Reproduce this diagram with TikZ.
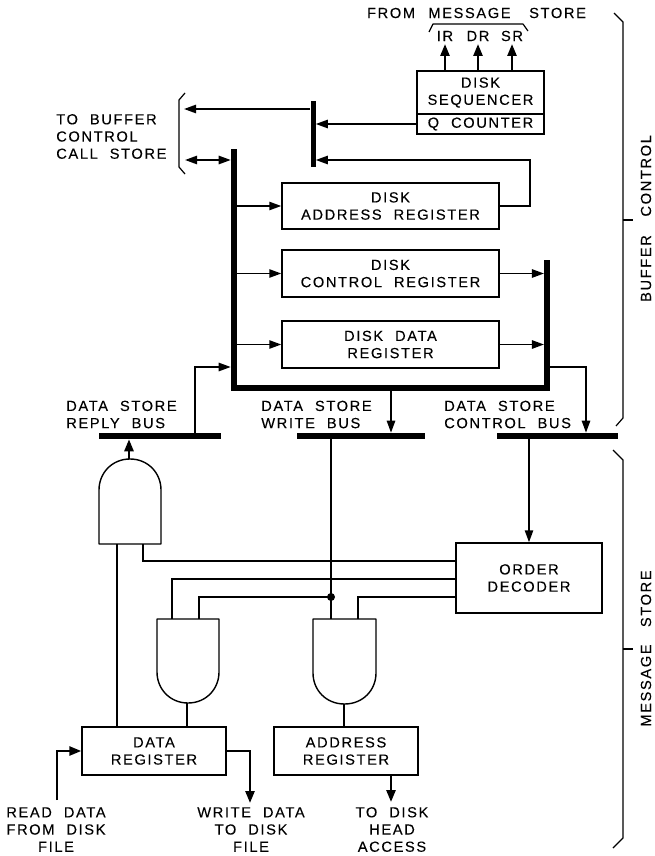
\documentclass[tikz,border=0pt]{standalone}
\usepackage{fontspec}
\setmainfont{Liberation Sans}[LetterSpace=11,WordSpace=2.1,FakeBold=0.15]
\usetikzlibrary{arrows.meta}
\tikzset{
  x=0.75pt,y=-0.75pt,
  lbl/.style={inner sep=0pt,align=center,font=\fontsize{11}{12.9}\selectfont},
  lbll/.style={lbl,align=left},
  regbox/.style={draw,line width=1.05pt,inner sep=0pt,minimum width=#1*0.75pt},
  bh/.style={minimum height=#1*0.75pt},
  bus/.style={fill=black,inner sep=0pt,draw=none},
  wire/.style={line width=1.35pt},
  arr/.style={wire,-{Triangle[length=9pt,width=6.2pt]}},
  fat/.style={line width=1.8pt,-{Triangle[length=9pt,width=6.8pt]}},
  darr/.style={wire,{Triangle[length=9pt,width=6.2pt]}-{Triangle[length=9pt,width=6.2pt]}},
  brace/.style={line width=0.9pt,line join=round},
  gate/.style={line width=1.05pt,line join=round}
}
\begin{document}
\begin{tikzpicture}
\useasboundingbox (0,0) rectangle (655,856);
% registers
\node[regbox=127,bh=43,lbl] (seq) at (480.5,92.5) {DISK\\SEQUENCER};
\node[regbox=127,bh=20,lbl] (qc) at (480.5,124) {Q COUNTER};
\node[regbox=217,bh=46,lbl] (dar) at (390.5,206) {DISK\\ADDRESS REGISTER};
\node[regbox=217,bh=47,lbl] (dcr) at (390.5,273.5) {DISK\\CONTROL REGISTER};
\node[regbox=217,bh=47,lbl] (ddr) at (390.5,344.5) {DISK DATA\\REGISTER};
\node[regbox=146,bh=70,lbl] (dec) at (529,578) {ORDER\\DECODER};
\node[regbox=144,bh=48,lbl] (drg) at (154,751) {DATA\\REGISTER};
\node[regbox=144,bh=48,lbl] (arg) at (346,751) {ADDRESS\\REGISTER};
% buses
\node[bus,minimum width=5*0.75pt,minimum height=66*0.75pt] (tb) at (313,134) {};
\node[bus,minimum width=6*0.75pt,minimum height=241*0.75pt] (bl) at (234,269.5) {};
\node[bus,minimum width=319*0.75pt,minimum height=5.5*0.75pt] (bb) at (390.5,388) {};
\node[bus,minimum width=5.5*0.75pt,minimum height=131*0.75pt] (br) at (547,325) {};
\node[bus,minimum width=122*0.75pt,minimum height=6*0.75pt] (rb) at (160,436) {};
\node[bus,minimum width=128*0.75pt,minimum height=6*0.75pt] (wb) at (361,436) {};
\node[bus,minimum width=121*0.75pt,minimum height=6*0.75pt] (cb) at (557.5,436) {};
% free ends and gate pins
\coordinate (ir) at (445,44);
\coordinate (dr) at (478,44);
\coordinate (sr) at (512,44);
\coordinate (cs1) at (184,109);
\coordinate (cs2) at (185,160);
\coordinate (rr) at (195,367);
\coordinate (wtap) at (391,390);
\coordinate (ctap) at (586,367);
\coordinate (rd) at (57,800);
\coordinate (wd) at (250,803);
\coordinate (ha) at (391,802);
\coordinate (back) at (530,160);
\coordinate (j) at (331,597);
% gates
\draw[gate] (99,544) -- (99,490) .. controls (99,473) and (112,459) .. (130,459) .. controls (148,459) and (161,473) .. (161,490) -- (161,544) -- cycle;
\draw[gate] (157,619) -- (157,672) .. controls (157,689) and (170,703) .. (188,703) .. controls (206,703) and (219,689) .. (219,672) -- (219,619) -- cycle;
\draw[gate] (313,619) -- (313,673) .. controls (313,690) and (326,704) .. (344.5,704) .. controls (363,704) and (376,690) .. (376,673) -- (376,619) -- cycle;
\coordinate (g1o) at (129,459);
\coordinate (g1a) at (117,544);
\coordinate (g1b) at (143,544);
\coordinate (g2o) at (187,703);
\coordinate (g2a) at (172,619);
\coordinate (g2b) at (199,619);
\coordinate (g3o) at (344,704);
\coordinate (g3a) at (331,619);
\coordinate (g3b) at (358,619);
% connectors
\draw[fat] (seq.north -| ir) -- (ir);
\draw[fat] (seq.north -| dr) -- (dr);
\draw[fat] (seq.north -| sr) -- (sr);
\draw[arr] (qc.west) -- (tb.east |- qc.west);
\draw[arr] (dar.east) -| (back) -- (tb.east |- back);
\draw[arr] (tb.west |- cs1) -- (cs1);
\draw[darr] (cs2) -- (bl.west |- cs2);
\draw[arr] (bl.east |- dar.west) -- (dar.west);
\draw[arr] (bl.east |- dcr.west) -- (dcr.west);
\draw[arr] (bl.east |- ddr.west) -- (ddr.west);
\draw[arr] (dcr.east) -- (br.west |- dcr.east);
\draw[arr] (ddr.east) -- (br.west |- ddr.east);
\draw[arr] (rb.north -| rr) -- (rr) -- (bl.west |- rr);
\draw[arr] (bb.south -| wtap) -- (wb.north -| wtap);
\draw[arr] (br.east |- ctap) -- (ctap) -- (cb.north -| ctap);
\draw[arr] (cb.south -| dec.north) -- (dec.north);
\draw[fat] (g1o) -- (rb.south -| g1o);
\draw[wire] (wb.south -| j) -- (g3a);
\fill (j) circle[radius=3pt];
\draw[wire] (dec.west |- 0,561) -| (g1b);
\draw[wire] (dec.west |- 0,579) -| (g2a);
\draw[wire] (j) -| (g2b);
\draw[wire] (dec.west |- j) -| (g3b);
\draw[wire] (g1a) -- (drg.north -| g1a);
\draw[wire] (g2o) -- (drg.north -| g2o);
\draw[wire] (g3o) -- (arg.north -| g3o);
\draw[fat] (rd) |- (drg.west);
\draw[fat] (drg.east) -| (wd);
\draw[fat] (arg.south -| ha) -- (ha);
% braces
\draw[brace] (429,32) -- (433,24) -- (523,24) -- (528,31);
\draw[brace] (185,93) -- (179,100) -- (179,167) -- (185,174);
\draw[brace] (614,13) -- (623,22) -- (623,418) -- (616,426);
\draw[brace] (613,450) -- (623,460) -- (623,838) -- (613,848);
\draw[brace] (623,220) -- (633,220);
\draw[brace] (623,649) -- (633,649);
% labels
\node[lbl] (tfrom) at (476.5,13) {FROM\hspace{1pt} MESSAGE\hspace{5pt} STORE};
\node[lbl] (tir) at (445,36) {IR};
\node[lbl] (tdr) at (478,36) {DR};
\node[lbl] (tsr) at (512,36) {SR};
\node[lbll,anchor=west] (tbuf) at (56,136.5) {TO BUFFER\\CONTROL\\CALL STORE};
\node[lbll,anchor=west] (trep) at (66,414.5) {DATA STORE\\REPLY BUS};
\node[lbll,anchor=west] (twri) at (261,414.5) {DATA STORE\\WRITE BUS};
\node[lbll,anchor=west] (tctl) at (444,414.5) {DATA STORE\\CONTROL BUS};
\node[lbl] (trd) at (56,829.5) {READ DATA\\FROM DISK\\FILE};
\node[lbl] (twd) at (251,829.5) {WRITE DATA\\TO DISK\\FILE};
\node[lbl] (tha) at (392,829.5) {TO DISK\\HEAD\\ACCESS};
\node[lbl,rotate=90] (tbc) at (646,218.5) {BUFFER\hspace{5pt} CONTROL};
\node[lbl,rotate=90] (tms) at (646,648.5) {MESSAGE\hspace{4pt} STORE};
\end{tikzpicture}
\end{document}
